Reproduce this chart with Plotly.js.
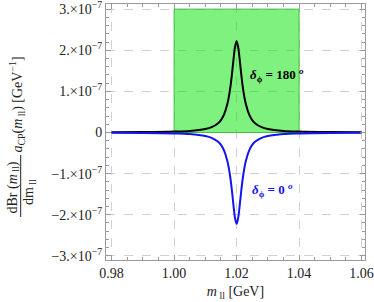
<!DOCTYPE html>
<html>
<head>
<meta charset="utf-8">
<script src="https://cdn.plot.ly/plotly-3.0.1.min.js"></script>
<style>html,body{margin:0;padding:0;background:#fff;}#chart{width:374px;height:302px;}</style>
</head>
<body>
<div id="chart"></div>
<script>
// m_ll values (GeV)
const mll = [0.98, 0.99, 1.00, 1.005, 1.01, 1.012, 1.014, 1.015, 1.016, 1.017, 1.0175, 1.018, 1.0185, 1.019, 1.0195,
             1.02,
             1.0205, 1.021, 1.0215, 1.022, 1.0225, 1.023, 1.024, 1.025, 1.026, 1.028, 1.03, 1.035, 1.04, 1.05, 1.06];
// delta_phi = 180 deg (black)
const y180 = [0.0055e-7, 0.0097e-7, 0.022e-7, 0.038e-7, 0.085e-7, 0.13e-7, 0.22e-7, 0.30e-7, 0.44e-7, 0.68e-7, 0.86e-7, 1.10e-7, 1.41e-7, 1.77e-7, 2.08e-7,
              2.22e-7,
              2.08e-7, 1.77e-7, 1.41e-7, 1.10e-7, 0.86e-7, 0.68e-7, 0.44e-7, 0.30e-7, 0.22e-7, 0.13e-7, 0.085e-7, 0.038e-7, 0.022e-7, 0.0097e-7, 0.0055e-7];
// delta_phi = 0 deg (blue)
const y0 = [-0.0055e-7, -0.0097e-7, -0.022e-7, -0.038e-7, -0.085e-7, -0.13e-7, -0.22e-7, -0.30e-7, -0.44e-7, -0.68e-7, -0.86e-7, -1.10e-7, -1.41e-7, -1.77e-7, -2.08e-7,
            -2.22e-7,
            -2.08e-7, -1.77e-7, -1.41e-7, -1.10e-7, -0.86e-7, -0.68e-7, -0.44e-7, -0.30e-7, -0.22e-7, -0.13e-7, -0.085e-7, -0.038e-7, -0.022e-7, -0.0097e-7, -0.0055e-7];
// shaded band
const bandX = [1.00, 1.00, 1.04, 1.04, 1.00];
const bandY = [0, 3e-7, 3e-7, 0, 0];
// ticks
const xTickVals = [0.98, 1.00, 1.02, 1.04, 1.06];
const xTickText = ["0.98", "1.00", "1.02", "1.04", "1.06"];
const yTickVals = [-3e-7, -2e-7, -1e-7, 0, 1e-7, 2e-7, 3e-7];
const yTickText = ["\u22123.\u00d710<sup>\u22127</sup>", "\u22122.\u00d710<sup>\u22127</sup>", "\u22121.\u00d710<sup>\u22127</sup>", "0",
                   "1.\u00d710<sup>\u22127</sup>", "2.\u00d710<sup>\u22127</sup>", "3.\u00d710<sup>\u22127</sup>"];

const serif = "Liberation Serif, serif";
const frame = "#9a9a9a";

const traces = [
  {x: bandX, y: bandY, type: "scatter", mode: "lines", fill: "toself",
   fillcolor: "rgba(0,228,0,0.5)", line: {color: "rgba(70,190,70,1)", width: 1}, hoverinfo: "skip"},
  {x: mll, y: y180, type: "scatter", mode: "lines", line: {color: "#000000", width: 2, shape: "spline", smoothing: 1}},
  {x: mll, y: y0, type: "scatter", mode: "lines", line: {color: "#1414f0", width: 2, shape: "spline", smoothing: 1}}
];

const px = p => (p - 106) / 259;
const py = p => (260 - p) / 256;

const layout = {
  width: 374, height: 302,
  margin: {l: 106, r: 9, t: 4, b: 42},
  paper_bgcolor: "#fff", plot_bgcolor: "#fff",
  showlegend: false,
  font: {family: serif, size: 14, color: "#222"},
  xaxis: {
    range: [0.9782, 1.0611], tickvals: xTickVals, ticktext: xTickText,
    showline: true, mirror: "ticks", linecolor: frame, linewidth: 1,
    ticks: "inside", ticklen: 5, tickcolor: frame,
    minor: {ticks: "inside", dtick: 0.005, tick0: 0.98, ticklen: 3, tickcolor: frame, showgrid: false},
    showgrid: true, gridcolor: "#d0d0d0", griddash: "dash", gridwidth: 1, zeroline: false,
    tickfont: {family: serif, size: 14, color: "#222"},
    title: {text: "<i>m</i><sub> ll</sub> [GeV]", font: {family: serif, size: 14, color: "#222"}, standoff: 6}
  },
  yaxis: {
    range: [-3.1e-7, 3.125e-7], tickvals: yTickVals, ticktext: yTickText,
    showline: true, mirror: "ticks", linecolor: frame, linewidth: 1,
    ticks: "inside", ticklen: 5, tickcolor: frame, ticklabeloverflow: "allow",
    minor: {ticks: "inside", dtick: 2e-8, tick0: 0, ticklen: 3, tickcolor: frame, showgrid: false},
    showgrid: true, gridcolor: "#d0d0d0", griddash: "dash", gridwidth: 1,
    zeroline: true, zerolinecolor: "#aaaaaa", zerolinewidth: 1,
    tickfont: {family: serif, size: 14, color: "#222"}
  },
  shapes: [
    {type: "line", xref: "paper", yref: "paper", x0: px(20.7), x1: px(20.7), y0: py(155), y1: py(217),
     line: {color: "#222", width: 1}}
  ],
  annotations: [
    {xref: "paper", yref: "paper", x: px(12.5), y: py(188), text: "dBr (<i>m</i><sub> ll</sub>)", textangle: -90,
     showarrow: false, xanchor: "center", yanchor: "middle", font: {family: serif, size: 14, color: "#222"}},
    {xref: "paper", yref: "paper", x: px(29), y: py(192), text: "dm<sub> ll</sub>", textangle: -90,
     showarrow: false, xanchor: "center", yanchor: "middle", font: {family: serif, size: 14, color: "#222"}},
    {xref: "paper", yref: "paper", x: px(17.5), y: py(105), text: "<i>a</i><sub>CP</sub>(<i>m</i><sub> ll</sub>) [GeV<sup>\u22121</sup>]", textangle: -90,
     showarrow: false, xanchor: "center", yanchor: "middle", font: {family: serif, size: 14, color: "#222"}},
    {xref: "paper", yref: "paper", x: px(248), y: py(75), text: "<b><i>\u03b4</i><sub>\u03d5</sub> = 180 <sup><i>o</i></sup></b>",
     showarrow: false, xanchor: "left", yanchor: "middle", font: {family: serif, size: 13, color: "#000"}},
    {xref: "paper", yref: "paper", x: px(250), y: py(190), text: "<b><i>\u03b4</i><sub>\u03d5</sub> = 0 <sup><i>o</i></sup></b>",
     showarrow: false, xanchor: "left", yanchor: "middle", font: {family: serif, size: 13, color: "#1414f0"}}
  ]
};

Plotly.newPlot("chart", traces, layout, {staticPlot: true, displayModeBar: false});
</script>
</body>
</html>
